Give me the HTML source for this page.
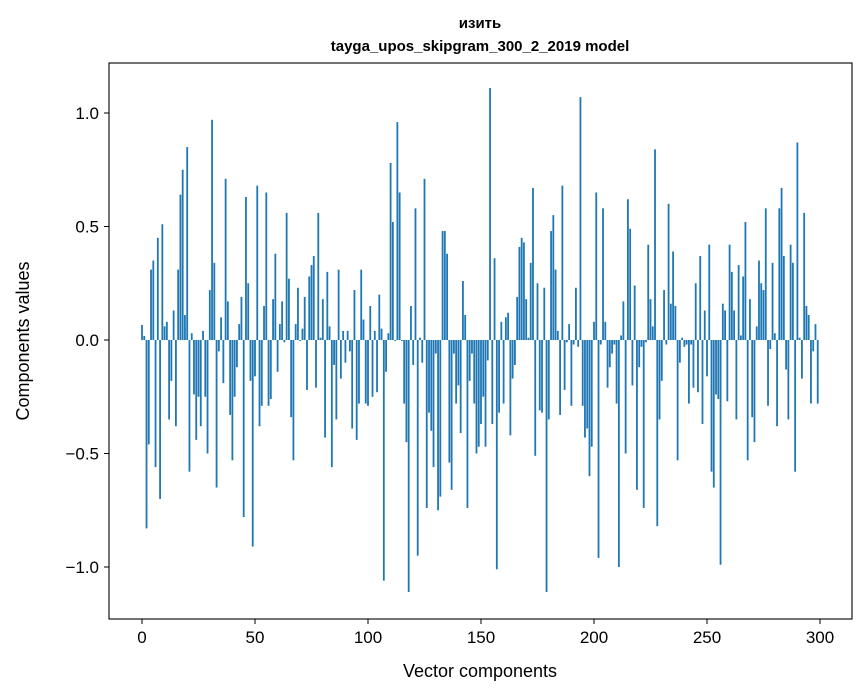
<!DOCTYPE html>
<html><head><meta charset="utf-8">
<style>
body{margin:0;background:#fff;}
svg{display:block;font-family:"Liberation Sans","DejaVu Sans",sans-serif;}
</style></head>
<body>
<svg id="chart" width="867" height="696" viewBox="0 0 867 696" xmlns="http://www.w3.org/2000/svg">
<rect width="867" height="696" fill="#fff"/>
<text x="480" y="28" text-anchor="middle" font-size="15" font-weight="bold" font-family="'Liberation Sans','DejaVu Sans',sans-serif">изить</text>
<text x="480" y="51" text-anchor="middle" font-size="15" font-weight="bold">tayga_upos_skipgram_300_2_2019 model</text>
<g id="bars"></g>
<g id="axes"></g>
<rect x="109" y="63" width="743" height="556" fill="none" stroke="#000" stroke-width="1.1"/>
<text x="480" y="677" text-anchor="middle" font-size="18">Vector components</text>
<text transform="translate(29,341) rotate(-90)" text-anchor="middle" font-size="18">Components values</text>
</svg>
<script>
const values = [
0.066,0.018,-0.83,-0.46,0.31,0.35,-0.56,0.45,-0.70,0.51,
0.06,0.08,-0.35,-0.18,0.13,-0.38,0.31,0.64,0.75,0.11,
0.85,-0.58,0.03,-0.24,-0.44,-0.25,-0.38,0.04,-0.25,-0.50,
0.22,0.97,0.34,-0.65,-0.05,0.10,-0.19,0.71,0.17,-0.33,
-0.53,-0.25,-0.12,0.07,0.19,-0.78,0.63,0.25,-0.18,-0.91,
-0.16,0.68,-0.38,-0.29,0.15,0.65,-0.29,-0.26,0.18,0.38,
-0.14,0.07,0.17,-0.01,0.56,0.27,-0.34,-0.53,0.07,0.23,
-0.004,0.05,0.19,-0.22,0.28,0.33,0.37,-0.21,0.56,0.01,
0.18,-0.43,0.30,0.06,-0.56,-0.11,-0.35,0.31,-0.17,0.04,
-0.10,0.04,-0.05,-0.39,0.22,-0.44,-0.28,0.31,0.09,-0.28,
-0.29,0.15,-0.25,0.04,-0.23,0.20,0.05,-1.06,-0.14,0.03,
0.78,0.52,-0.004,0.96,0.65,-0.004,-0.28,-0.45,-1.11,0.15,
-0.11,0.58,-0.95,0.01,-0.10,0.71,-0.74,-0.32,-0.40,-0.56,
-0.06,-0.75,-0.69,0.48,0.48,0.38,-0.54,-0.66,-0.06,-0.28,
-0.20,-0.41,0.26,0.11,-0.74,-0.18,-0.06,-0.28,-0.50,-0.47,
-0.37,-0.25,-0.47,-0.09,1.11,-0.37,0.36,-1.01,-0.32,0.08,
-0.28,0.10,0.12,-0.42,-0.17,-0.11,0.19,0.41,0.45,0.43,
0.18,0.01,0.34,0.67,-0.51,0.25,-0.31,-0.32,0.23,-1.11,
-0.35,0.48,0.55,0.31,0.04,-0.33,0.68,-0.22,-0.01,0.07,
-0.29,-0.02,0.23,-0.03,1.07,-0.29,-0.43,-0.39,-0.60,-0.47,
0.08,0.65,-0.96,-0.02,0.58,0.08,-0.21,-0.12,-0.06,-0.02,
-0.28,-1.00,0.02,0.17,-0.50,0.62,0.49,-0.20,0.24,-0.66,
-0.12,-0.03,-0.74,-0.01,0.42,0.18,0.06,0.84,-0.82,-0.35,
-0.18,0.22,-0.02,0.60,0.16,0.39,0.15,-0.53,-0.10,0.01,
-0.03,-0.02,-0.28,-0.02,-0.21,0.25,-0.23,0.37,-0.37,0.13,
-0.16,0.42,-0.58,-0.65,-0.24,-0.26,-0.99,0.16,0.13,-0.27,
0.42,0.30,0.13,-0.35,0.33,0.02,0.28,0.52,-0.53,0.18,
-0.34,-0.45,0.06,0.35,0.25,0.22,0.58,-0.29,-0.04,0.34,
0.03,-0.38,0.58,0.67,0.37,-0.13,-0.35,0.42,0.34,-0.58,
0.87,0.01,-0.17,0.56,0.15,0.11,-0.28,-0.05,0.07,-0.28
];
const xTicks = [0,50,100,150,200,250,300];
const yTicks = [1.0,0.5,0.0,-0.5,-1.0];
const yTickLabels = ["1.0","0.5","0.0","\u22120.5","\u22121.0"];

const NS="http://www.w3.org/2000/svg";
function xScale(v){return 142+v*(820-142)/300;}
function yScale(v){return 340-v*227;}
const barsG=document.getElementById('bars');
const bw=0.8*(820-142)/300;
values.forEach((v,i)=>{
  const r=document.createElementNS(NS,'rect');
  const y0=yScale(0), y1=yScale(v);
  r.setAttribute('x',xScale(i)-bw/2);
  r.setAttribute('y',Math.min(y0,y1));
  r.setAttribute('width',bw);
  r.setAttribute('height',Math.max(Math.abs(y1-y0),0.3));
  r.setAttribute('fill','#1f77b4');
  
  
  barsG.appendChild(r);
});
const axG=document.getElementById('axes');
xTicks.forEach(t=>{
  const x=xScale(t);
  const l=document.createElementNS(NS,'line');
  l.setAttribute('x1',x);l.setAttribute('x2',x);l.setAttribute('y1',619);l.setAttribute('y2',624);
  l.setAttribute('stroke','#000');
  
  
  axG.appendChild(l);
  const tx=document.createElementNS(NS,'text');
  tx.setAttribute('x',x);tx.setAttribute('y',643);tx.setAttribute('text-anchor','middle');tx.setAttribute('font-size','17');
  tx.textContent=String(t);
  
  
  axG.appendChild(tx);
});
yTicks.forEach((t,i)=>{
  const y=yScale(t);
  const l=document.createElementNS(NS,'line');
  l.setAttribute('x1',104);l.setAttribute('x2',109);l.setAttribute('y1',y);l.setAttribute('y2',y);
  l.setAttribute('stroke','#000');
  
  
  axG.appendChild(l);
  const tx=document.createElementNS(NS,'text');
  tx.setAttribute('x',99);tx.setAttribute('y',y+6);tx.setAttribute('text-anchor','end');tx.setAttribute('font-size','17');
  tx.textContent=yTickLabels[i];
  
  
  axG.appendChild(tx);
});
</script>
</body></html>
